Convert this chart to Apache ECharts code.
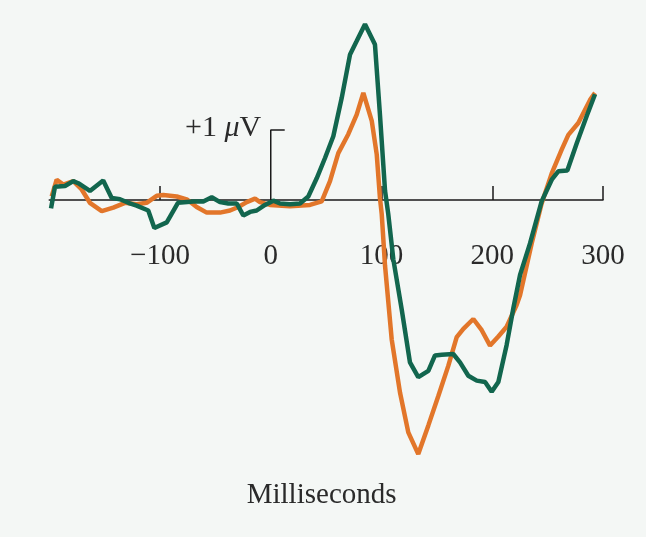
<!DOCTYPE html>
<html><head><meta charset="utf-8">
<script src="https://cdn.jsdelivr.net/npm/echarts@6/dist/echarts.min.js"></script>
<style>html,body{margin:0;padding:0;background:#f4f7f5}#c{width:646px;height:537px}</style>
</head><body><div id="c"></div>
<script>
// Time (ms) and amplitude (µV)
const greenT=[-198.4,-194.8,-185.8,-178.3,-173.8,-163.3,-151.3,-143.6,-136.1,-128.6,-121.1,-110.6,-105.1,-93.9,-83.8,-69.9,-60.9,-53.3,-45.8,-38.3,-30.7,-24.8,-18.7,-12.7,-5.2,2.3,8.4,17.4,26.4,33.9,41.5,49,56.5,64.1,71.6,77.6,85.1,94.1,98.6,103.2,106.1,110.7,118.2,125.7,133.2,142.3,148.3,154.4,164.8,170.9,178.4,186,193.5,199.5,205.5,213,219,225.1,234.1,244.6,253.7,259.6,267.8,276.3,285.3,292.8];
const greenV=[-0.12,0.19,0.20,0.27,0.24,0.13,0.28,0.03,0.01,-0.04,-0.08,-0.15,-0.40,-0.32,-0.04,-0.02,-0.02,0.04,-0.03,-0.05,-0.05,-0.22,-0.17,-0.15,-0.07,-0.01,-0.05,-0.06,-0.05,0.05,0.31,0.60,0.91,1.46,2.08,2.27,2.51,2.22,1.22,0.13,-0.20,-0.85,-1.56,-2.32,-2.53,-2.44,-2.22,-2.21,-2.20,-2.32,-2.51,-2.58,-2.60,-2.74,-2.60,-2.07,-1.55,-1.07,-0.62,-0.02,0.29,0.41,0.42,0.81,1.20,1.51];
const orangeT=[-197.8,-193.3,-187.3,-178.3,-170.7,-163.3,-152.6,-142.2,-131.6,-121.1,-112.1,-103,-97,-84.9,-75.9,-66.9,-57.8,-45.8,-36.8,-29.3,-21.7,-14.2,-9.7,-0.7,17.4,35.4,46,53.5,61,70,77.6,83.6,91.2,95.7,98.6,100.2,103.2,109.2,116.7,124.2,133.2,142.3,151.3,160.3,167.9,173.9,182.9,190.5,198,205.5,213,222,225.1,235.6,244.6,253.7,262.7,268.7,277.7,288.3,292.8];
const orangeV=[0.05,0.29,0.22,0.27,0.15,-0.04,-0.16,-0.11,-0.04,-0.06,-0.04,0.06,0.07,0.05,0.01,-0.10,-0.18,-0.18,-0.15,-0.10,-0.03,0.02,-0.03,-0.07,-0.09,-0.07,-0.02,0.27,0.67,0.94,1.22,1.53,1.13,0.65,0.03,-0.20,-0.94,-1.99,-2.75,-3.32,-3.63,-3.22,-2.80,-2.37,-1.96,-1.84,-1.70,-1.86,-2.08,-1.95,-1.81,-1.50,-1.36,-0.62,-0.05,0.38,0.72,0.93,1.10,1.43,1.53];
const xTickValues=[-100,0,100,200,300];
const xTickLabels=['\u2212100','0','100','200','300'];
const xTickMarks=[-100,100,200,300];
const scaleBarX=[0,0,12.6];
const scaleBarY=[0,1,1];
const axisTitle='Milliseconds';

const SERIF="'Liberation Serif','DejaVu Serif',serif";
const zip=(t,v)=>t.map((x,i)=>[x,v[i]]);
const Y_MIN=-3.8, Y_MAX=2.8, G_TOP=4, G_H=462;
const zeroOffset=-(G_H*(0-Y_MIN)/(Y_MAX-Y_MIN));
const chart=echarts.init(document.getElementById('c'),null,{renderer:'canvas'});
chart.setOption({
  backgroundColor:'#f4f7f5',
  animation:false,
  grid:{left:49.25,right:43,top:G_TOP,height:G_H,outerBoundsMode:'none',containLabel:false},
  xAxis:{type:'value',min:-200,max:300,offset:zeroOffset,
    name:axisTitle,nameLocation:'middle',nameGap:281,
    nameTextStyle:{fontFamily:SERIF,fontSize:29,color:'#2a2a2a',padding:[0,9,0,0]},
    axisLine:{onZero:false,lineStyle:{color:'#1a1a1a',width:1.5}},
    axisTick:{show:true,inside:true,length:14,customValues:xTickMarks,lineStyle:{color:'#1a1a1a',width:1.5}},
    axisLabel:{customValues:xTickValues,formatter:v=>xTickLabels[xTickValues.indexOf(v)],fontFamily:SERIF,fontSize:29,color:'#2a2a2a',margin:42},
    splitLine:{show:false}},
  yAxis:{type:'value',min:Y_MIN,max:Y_MAX,show:false},
  series:[
    {type:'line',data:zip(orangeT,orangeV),symbol:'none',lineStyle:{color:'#e2762a',width:4.5},z:3},
    {type:'line',data:zip(greenT,greenV),symbol:'none',lineStyle:{color:'#12664e',width:4.5},z:4},
    {type:'line',symbol:'circle',symbolSize:1,itemStyle:{color:'rgba(0,0,0,0)'},
      lineStyle:{color:'#1a1a1a',width:1.5},z:5,
      data:scaleBarX.map((x,i)=>({value:[x,scaleBarY[i]],
        label:i===1?{show:true,position:'left',distance:9,offset:[0,-2],
          formatter:'{a|+1 }{b|\u03BC}{a|V}',
          rich:{a:{fontFamily:SERIF,fontSize:30,color:'#2a2a2a'},b:{fontFamily:SERIF,fontSize:30,fontStyle:'italic',color:'#2a2a2a'}}}:{show:false}}))}
  ]
});
</script></body></html>
